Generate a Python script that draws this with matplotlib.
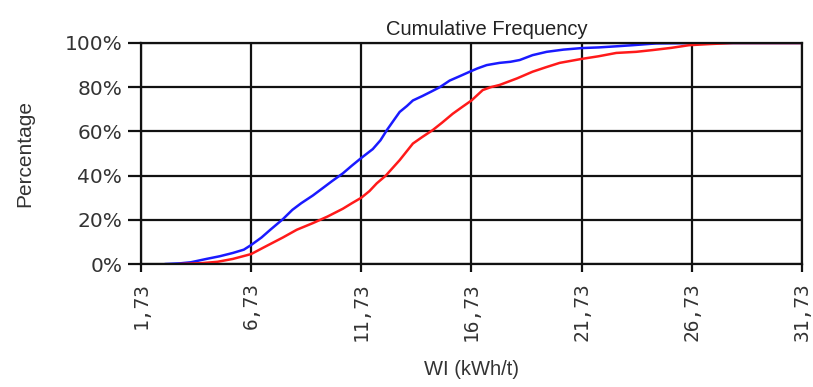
import matplotlib
matplotlib.use("Agg")
import matplotlib.pyplot as plt

# Valores (WI en kWh/t, porcentaje acumulado)
blue_x = [2.86, 3.5, 4.0, 4.7, 5.3, 5.9, 6.4, 6.73, 7.2, 7.6, 8.17, 8.6, 9.0, 9.53,
          10.0, 10.4, 10.89, 11.3, 11.73, 12.25, 12.6, 12.89, 13.2, 13.47, 13.8,
          14.07, 14.5, 14.9, 15.29, 15.74, 16.2, 16.65, 17.0, 17.42, 18.0, 18.5,
          18.92, 19.5, 20.14, 20.9, 21.73, 22.5, 23.3, 24.04, 25.1, 27.0, 31.73]
blue_y = [0, 0.3, 0.8, 2.3, 3.5, 5, 6.5, 8.6, 12, 15.5, 20.3, 24.5, 27.5, 31,
          34.5, 37.5, 41, 44.5, 48, 52, 56, 60.6, 65, 68.8, 71.5,
          74, 76, 78, 80, 83, 85, 87, 88.5, 90, 91, 91.5,
          92.3, 94.5, 96, 97, 97.7, 98, 98.5, 99, 99.8, 100, 100]

red_x = [3.5, 4.5, 5.2, 5.9, 6.73, 7.3, 8.17, 8.8, 9.53, 10.2, 10.89, 11.3, 11.73,
         12.1, 12.43, 12.84, 13.47, 14.07, 14.5, 14.97, 15.4, 15.88, 16.3, 16.73,
         17.24, 17.6, 18.0, 18.8, 19.5, 20.1, 20.73, 21.73, 22.5, 23.3, 24.2,
         24.95, 25.8, 26.6, 27.5, 28.6, 31.73]
red_y = [0, 0.4, 1, 2.3, 4.5, 7.5, 12, 15.5, 18.5, 21.5, 25, 27.5, 30,
         33, 36.5, 40, 47, 54.5, 57.5, 60.6, 64, 68, 71, 74,
         78.7, 80, 81, 84, 87, 89, 91, 92.8, 94, 95.5, 96,
         96.8, 97.8, 99, 99.5, 100, 100]

x_ticks = [1.73, 6.73, 11.73, 16.73, 21.73, 26.73, 31.73]
x_labels = ["1,73", "6,73", "11,73", "16,73", "21,73", "26,73", "31,73"]
y_ticks = [0, 20, 40, 60, 80, 100]
y_labels = ["0%", "20%", "40%", "60%", "80%", "100%"]

fig = plt.figure(figsize=(8.13, 3.87), dpi=100)
ax = fig.add_axes([0.1734, 0.3178, 0.8131, 0.5711])

ax.plot(blue_x, blue_y, color="#1a1aff", lw=1.8)
ax.plot(red_x, red_y, color="#ff1a1a", lw=1.8)

ax.set_xlim(1.73, 31.73)
ax.set_ylim(0, 100)
ax.set_xticks(x_ticks)
ax.set_xticklabels(x_labels, rotation=90, family="DejaVu Sans Mono", fontsize=14, color="#333333")
ax.set_yticks(y_ticks)
ax.set_yticklabels(y_labels, family="DejaVu Sans", fontsize=14.5, color="#333333")

ax.grid(True, color="#111111", lw=1.6)
for s in ax.spines.values():
    s.set_color("#111111")
    s.set_linewidth(1.6)
ax.tick_params(axis="y", length=9.5, width=1.6, color="#111111", pad=4)
ax.tick_params(axis="x", length=6, width=1.6, color="#111111", pad=7)

ax.set_title("Cumulative Frequency", family="Liberation Sans", fontsize=14.5,
             color="#222222", x=0.523, pad=6)
ax.set_ylabel("Percentage", family="Liberation Sans", fontsize=15, color="#333333", labelpad=22)
ax.set_xlabel("WI (kWh/t)", family="Liberation Sans", fontsize=14.5, color="#333333", labelpad=14)

fig.savefig("out.png", dpi=100)
